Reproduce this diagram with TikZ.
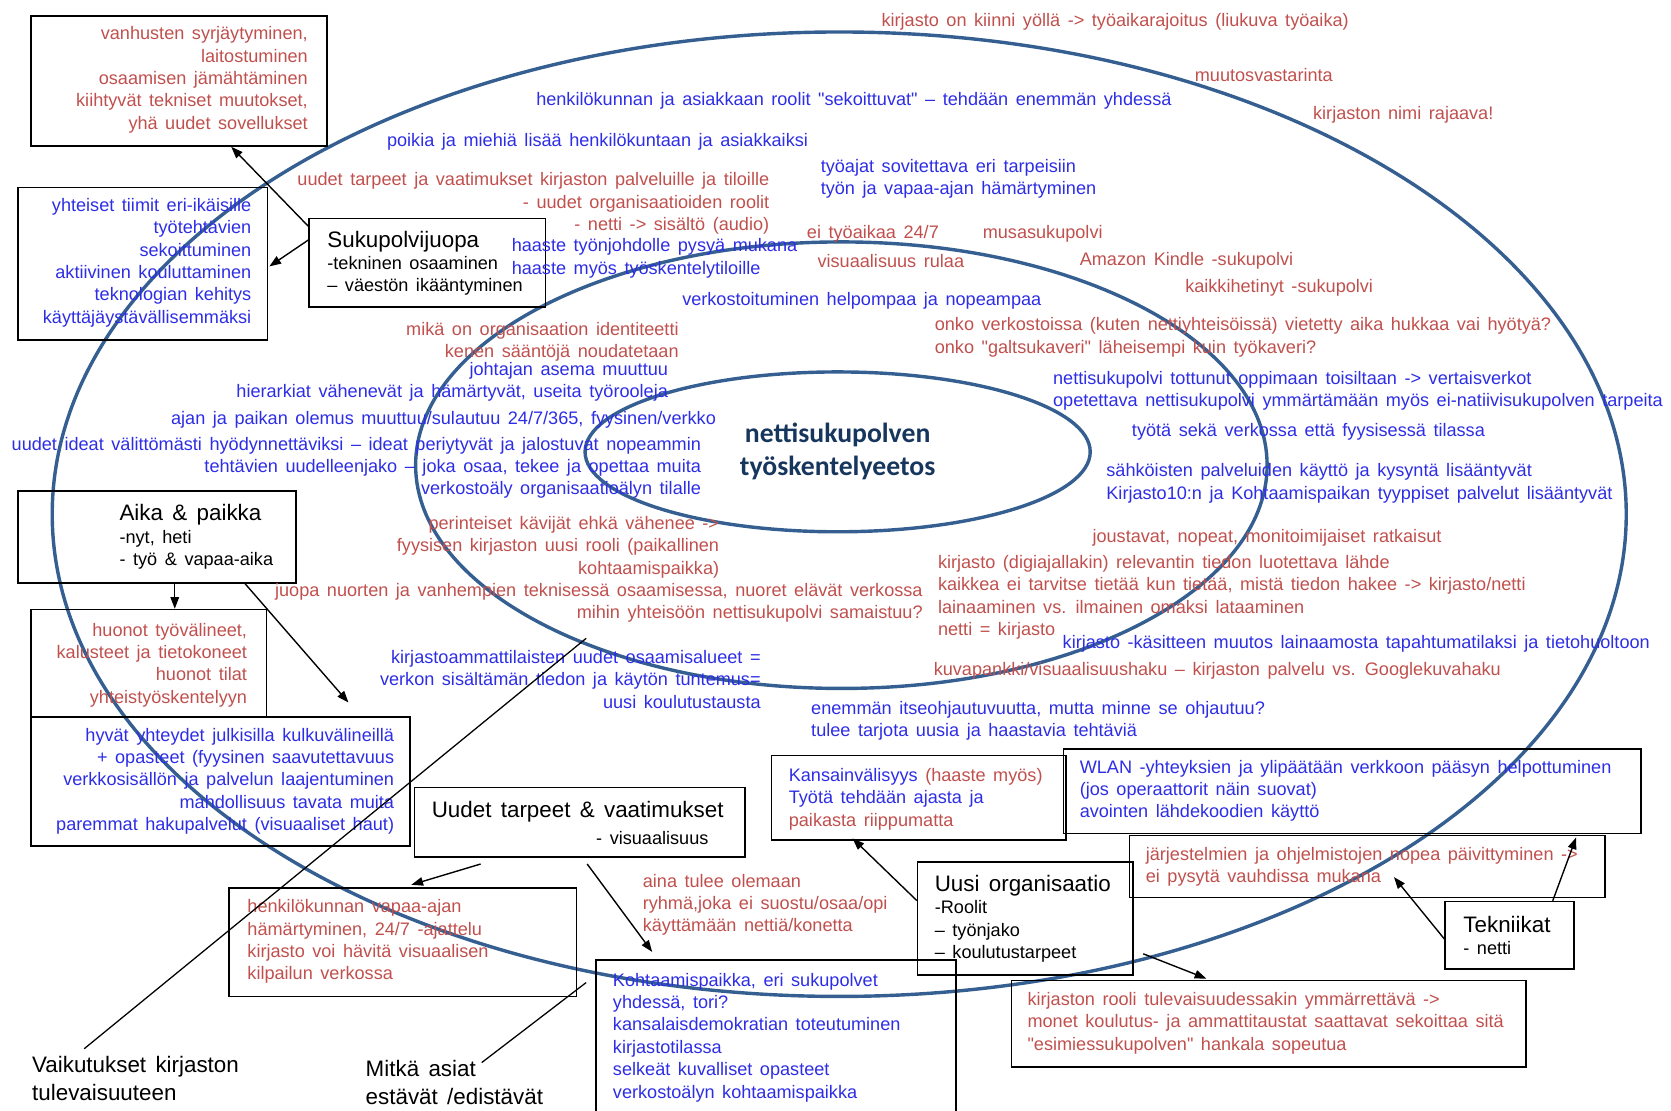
\documentclass[tikz,border=0pt]{standalone}
\usepackage{fontspec}
\setmainfont{Liberation Sans}[WordSpace=1.5]
\newfontfamily\corefont{Carlito}
\usepackage{tikz}
\usetikzlibrary{shapes.geometric, arrows.meta}
\definecolor{txtred}{RGB}{192,80,77}
\definecolor{txtblue}{RGB}{45,45,230}
\definecolor{ringblue}{RGB}{54,95,145}
\definecolor{corenavy}{RGB}{23,54,93}
\newcommand{\boxtitle}[1]{{\fontsize{21}{25}\selectfont #1}}
\newcommand{\qq}[1]{\textquotedbl#1\textquotedbl}
\tikzstyle{txt} = [inner sep=0pt, font=\fontsize{17}{21}\selectfont]
\tikzstyle{redtxt} = [txt, text=txtred]
\tikzstyle{bluetxt} = [txt, text=txtblue]
\tikzstyle{blacktxt} = [txt, text=black]
\tikzstyle{labeltxt} = [inner sep=0pt, text=black, font=\fontsize{21}{26}\selectfont, align=left, anchor=west]
\tikzstyle{box} = [rectangle, draw=black, line width=1.5pt, inner sep=0pt]
\tikzstyle{ring} = [draw=ringblue, line width=3.2pt]
\tikzstyle{arrow} = [line width=1.3pt, -{Triangle[length=11pt,width=8pt]}]
\tikzstyle{plainline} = [line width=1.2pt]

\begin{document}
\begin{tikzpicture}[x=1pt, y=-1pt]
\useasboundingbox (0,0) rectangle (1568,1042);

\draw [ring] (787.5,482.5) ellipse [x radius=738.5, y radius=452.5];
\draw [ring] (789.5,436.5) ellipse [x radius=399.5, y radius=209.5];
\node (core) [ellipse, ring, minimum width=474pt, minimum height=150pt, inner sep=0pt, align=center, text=corenavy, font=\corefont\bfseries\fontsize{26}{31}\selectfont] at (786,424) {nettisukupolven\\työskentelyeetos};

% boxes
\node (boxa) [box, minimum width=278pt, minimum height=122pt] at (168,76) {};
\node (boxatxt) [redtxt, align=right, anchor=east] at (289,75) {vanhusten syrjäytyminen,\\laitostuminen\\osaamisen jämähtäminen\\kiihtyvät tekniset muutokset,\\yhä uudet sovellukset};
\node (boxb) [box, minimum width=234pt, minimum height=143pt] at (134,247.5) {};
\node (boxbtxt) [bluetxt, align=right, anchor=east] at (236,246.5) {yhteiset tiimit eri-ikäisille\\työtehtävien\\sekoittuminen\\aktiivinen kouluttaminen\\teknologian kehitys\\käyttäjäystävällisemmäksi};
\node (juopa) [box, minimum width=222pt, minimum height=83pt] at (401,246.5) {};
\node (juopatxt) [blacktxt, align=left, anchor=west] at (307,247) {\boxtitle{Sukupolvijuopa}\\-tekninen osaaminen\\– väestön ikääntyminen};
\node (aika) [box, minimum width=261pt, minimum height=86pt] at (147.5,504) {};
\node (aikatxt) [blacktxt, align=left, anchor=west] at (112,504) {\boxtitle{Aika \& paikka}\\-nyt, heti\\- työ \& vapaa-aika};
\node (huonot) [box, minimum width=221pt, minimum height=101pt] at (139.5,622.5) {};
\node (huonottxt) [redtxt, align=right, anchor=east] at (232,624) {huonot työvälineet,\\kalusteet ja tietokoneet\\huonot tilat\\yhteistyöskentelyyn};
\node (hyvat) [box, minimum width=356pt, minimum height=121pt] at (207,733.5) {};
\node (hyvattxt) [bluetxt, align=right, anchor=east] at (370,733) {hyvät yhteydet julkisilla kulkuvälineillä\\+ opasteet (fyysinen saavutettavuus\\verkkosisällön ja palvelun laajentuminen\\mahdollisuus tavata muita\\paremmat hakupalvelut (visuaaliset haut)};
\node (uudet) [box, minimum width=310pt, minimum height=65pt] at (544,771.5) {};
\node (uudettxt) [blacktxt, anchor=west] at (405,762) {\boxtitle{Uudet tarpeet \& vaatimukset}};
\node (uudetsub) [blacktxt, anchor=east] at (665,786) {- visuaalisuus};
\node (henk) [box, minimum width=326pt, minimum height=102pt] at (378,884) {};
\node (henktxt) [redtxt, align=left, anchor=west] at (232,883.5) {henkilökunnan vapaa-ajan\\hämärtyminen, 24/7 -ajattelu\\kirjasto voi hävitä visuaalisen\\kilpailun verkossa};
\node (kohtaamis) [box, minimum width=338pt, minimum height=160pt] at (728,981) {};
\node (kohtaamistxt) [bluetxt, align=left, anchor=west] at (575,973.5) {Kohtaamispaikka, eri sukupolvet\\yhdessä, tori?\\kansalaisdemokratian toteutuminen\\kirjastotilassa\\selkeät kuvalliset opasteet\\verkostoälyn kohtaamispaikka};
\node (kansain) [box, minimum width=276pt, minimum height=79pt] at (862,748.5) {};
\node (kansaintxt) [bluetxt, align=left, anchor=west] at (740,750) {Kansainvälisyys \textcolor{txtred}{(haaste myös)}\\Työtä tehdään ajasta ja\\\textcolor{txtred}{paikasta riippumatta}};
\node (wlan) [box, minimum width=542pt, minimum height=79pt] at (1269,742.5) {};
\node (wlantxt) [bluetxt, align=left, anchor=west] at (1013,742) {WLAN -yhteyksien ja ylipäätään verkkoon pääsyn helpottuminen\\(jos operaattorit näin suovat)\\avointen lähdekoodien käyttö};
\node (jarj) [box, minimum width=446pt, minimum height=58pt] at (1283,813) {};
\node (jarjtxt) [redtxt, align=left, anchor=west] at (1075,813.5) {järjestelmien ja ohjelmistojen nopea päivittyminen ->\\ei pysytä vauhdissa mukana};
\node (uusi) [box, minimum width=202pt, minimum height=106pt] at (962,862) {};
\node (uusitxt) [blacktxt, align=left, anchor=west] at (877,862) {\boxtitle{Uusi organisaatio}\\-Roolit\\– työnjako\\– koulutustarpeet};
\node (tek) [box, minimum width=121pt, minimum height=63pt] at (1416.5,877.5) {};
\node (tektxt) [blacktxt, align=left, anchor=west] at (1373,878) {\boxtitle{Tekniikat}\\- netti};
\node (rooli) [box, minimum width=483pt, minimum height=81pt] at (1190.5,960.5) {};
\node (roolitxt) [redtxt, align=left, anchor=west] at (964,960) {kirjaston rooli tulevaisuudessakin ymmärrettävä ->\\monet koulutus- ja ammattitaustat saattavat sekoittaa sitä\\\qq{esimiessukupolven} hankala sopeutua};

\node (vaik) [labeltxt] at (30,1012) {Vaikutukset kirjaston\\tulevaisuuteen};
\node (mitka) [labeltxt] at (343,1016) {Mitkä asiat\\estävät /edistävät};

% free texts
\node (yolla) [redtxt, anchor=west] at (827,20) {kirjasto on kiinni yöllä -> työaikarajoitus (liukuva työaika)};
\node (muutos) [redtxt, anchor=west] at (1121,70) {muutosvastarinta};
\node (roolit) [bluetxt, anchor=west] at (503,95) {henkilökunnan ja asiakkaan roolit \qq{sekoittuvat} – tehdään enemmän yhdessä};
\node (nimi) [redtxt, anchor=west] at (1232,108) {kirjaston nimi rajaava!};
\node (poikia) [bluetxt, anchor=west] at (363,133) {poikia ja miehiä lisää henkilökuntaan ja asiakkaiksi};
\node (tarpeet) [redtxt, align=right, anchor=east] at (722,191) {uudet tarpeet ja vaatimukset kirjaston palveluille ja tiloille\\- uudet organisaatioiden roolit\\- netti -> sisältö (audio)};
\node (tyoajat) [bluetxt, align=left, anchor=west] at (770,167.5) {työajat sovitettava eri tarpeisiin\\työn ja vapaa-ajan hämärtyminen};
\node (haaste) [bluetxt, align=left, anchor=west] at (480,242.5) {haaste työnjohdolle pysyä mukana\\haaste myös työskentelytiloille};
\node (eityo) [redtxt, anchor=west] at (757,219) {ei työaikaa 24/7};
\node (musa) [redtxt, anchor=west] at (922,219) {musasukupolvi};
\node (visu) [redtxt, anchor=west] at (767,245) {visuaalisuus rulaa};
\node (kindle) [redtxt, anchor=west] at (1013,245) {Amazon Kindle -sukupolvi};
\node (kaikki) [redtxt, anchor=west] at (1112,270) {kaikkihetinyt -sukupolvi};
\node (verkosto) [bluetxt, anchor=west] at (640,282) {verkostoituminen helpompaa ja nopeampaa};
\node (onko) [redtxt, align=left, anchor=west] at (877,316.5) {onko verkostoissa (kuten nettiyhteisöissä) vietetty aika hukkaa vai hyötyä?\\onko \qq{galtsukaveri} läheisempi kuin työkaveri?};
\node (identiteetti) [redtxt, align=right, anchor=east] at (637,321) {mikä on organisaation identiteetti\\kenen sääntöjä noudatetaan};
\node (johtaja) [bluetxt, align=right, anchor=east] at (627,358.5) {johtajan asema muuttuu\\hierarkiat vähenevät ja hämärtyvät, useita työrooleja};
\node (ajan) [bluetxt, anchor=east] at (672,394) {ajan ja paikan olemus muuttuu/sulautuu 24/7/365, fyysinen/verkko};
\node (ideat) [bluetxt, align=right, anchor=east] at (658,439) {uudet ideat välittömästi hyödynnettäviksi – ideat periytyvät ja jalostuvat nopeammin\\tehtävien uudelleenjako – joka osaa, tekee ja opettaa muita\\verkostoäly organisaatioälyn tilalle};
\node (vertais) [bluetxt, align=left, anchor=west] at (988,366.5) {nettisukupolvi tottunut oppimaan toisiltaan -> vertaisverkot\\opetettava nettisukupolvi ymmärtämään myös ei-natiivisukupolven tarpeita};
\node (tila) [bluetxt, anchor=west] at (1062,405) {työtä sekä verkossa että fyysisessä tilassa};
\node (sahkoiset) [bluetxt, align=left, anchor=west] at (1038,453.5) {sähköisten palveluiden käyttö ja kysyntä lisääntyvät\\Kirjasto10:n ja Kohtaamispaikan tyyppiset palvelut lisääntyvät};
\node (kavijat) [redtxt, align=right, anchor=east] at (675,513.5) {perinteiset kävijät ehkä vähenee ->\\fyysisen kirjaston uusi rooli (paikallinen\\kohtaamispaikka)};
\node (nuoret) [redtxt, align=right, anchor=east] at (866,565.5) {juopa nuorten ja vanhempien teknisessä osaamisessa, nuoret elävät verkossa\\mihin yhteisöön nettisukupolvi samaistuu?};
\node (joustavat) [redtxt, anchor=west] at (1025,505) {joustavat, nopeat, monitoimijaiset ratkaisut};
\node (lahde) [redtxt, align=left, anchor=west] at (880,560.5) {kirjasto (digiajallakin) relevantin tiedon luotettava lähde\\kaikkea ei tarvitse tietää kun tietää, mistä tiedon hakee -> kirjasto/netti\\lainaaminen vs. ilmainen omaksi lataaminen\\netti = kirjasto};
\node (kasite) [bluetxt, anchor=west] at (997,604) {kirjasto -käsitteen muutos lainaamosta tapahtumatilaksi ja tietohuoltoon};
\node (kuvapankki) [redtxt, anchor=west] at (876,629) {kuvapankki/visuaalisuushaku – kirjaston palvelu vs. Googlekuvahaku};
\node (osaaminen) [bluetxt, align=right, anchor=east] at (714,637.5) {kirjastoammattilaisten uudet osaamisalueet =\\verkon sisältämän tiedon ja käytön tuntemus=\\uusi koulutustausta};
\node (itseohjaus) [bluetxt, align=left, anchor=west] at (761,676.5) {enemmän itseohjautuvuutta, mutta minne se ohjautuu?\\tulee tarjota uusia ja haastavia tehtäviä};
\node (aina) [redtxt, align=left, anchor=west] at (603,849) {aina tulee olemaan\\ryhmä,joka ei suostu/osaa/opi\\käyttämään nettiä/konetta};

% connectors
\coordinate (vaikend) at (550,599);
\coordinate (mitkaend) at (550,922);
\draw [arrow] ([yshift=-8pt]juopa.north west) -- ([xshift=49pt]boxa.south);
\draw [arrow] ([yshift=-21pt]juopa.north west) -- ([xshift=1pt,yshift=-2.5pt]boxb.east);
\draw [arrow] ([xshift=16.5pt]aika.south) -- ([xshift=24.5pt]huonot.north);
\draw [arrow] ([xshift=82.5pt]aika.south) -- ([xshift=120pt,yshift=13pt]hyvat.north);
\draw [arrow] ([xshift=-93pt,yshift=-6pt]uudet.south) -- ([xshift=8pt,yshift=2pt]henk.north);
\draw [arrow] ([xshift=7pt,yshift=-6pt]uudet.south) -- ([xshift=-116pt,yshift=7pt]kohtaamis.north);
\draw [arrow] ([yshift=17pt]uusi.west) -- ([xshift=-62pt,yshift=2pt]kansain.south);
\draw [arrow] ([xshift=9pt,yshift=-33pt]uusi.east) -- ([xshift=-58.5pt,yshift=1pt]rooli.north);
\draw [arrow] ([yshift=-3.5pt]tek.west) -- ([xshift=25pt,yshift=-10pt]jarj.center);
\draw [arrow] ([xshift=40.5pt]tek.north) -- ([xshift=210pt,yshift=-3pt]wlan.south);
\draw [plainline] ([xshift=49pt,yshift=7pt]vaik.north west) -- (vaikend);
\draw [plainline] ([xshift=109pt,yshift=-2pt]mitka.north west) -- (mitkaend);

\end{tikzpicture}
\end{document}
